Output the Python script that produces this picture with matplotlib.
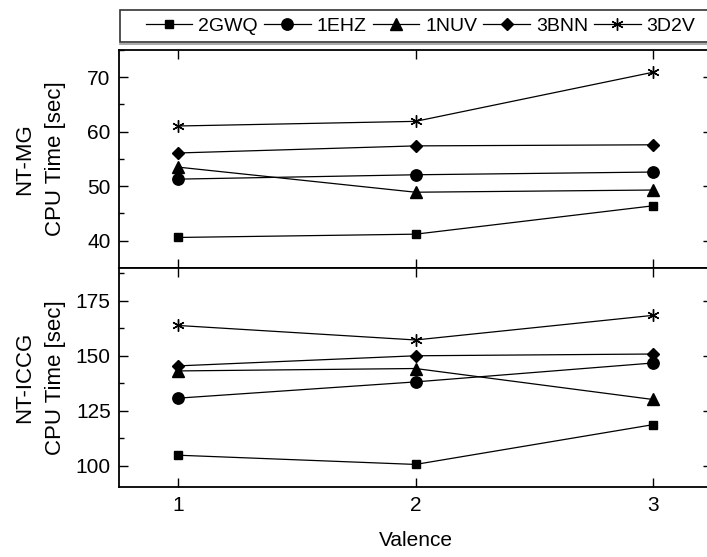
"""CPU time vs. valence for NT-MG and NT-ICCG solvers, five RNA structures."""

import matplotlib
matplotlib.use("Agg")
import matplotlib.pyplot as plt
from matplotlib.lines import Line2D
from matplotlib.patches import Rectangle
from matplotlib.ticker import MultipleLocator

plt.rcParams["font.family"] = ["Liberation Sans", "DejaVu Sans"]
plt.rcParams["font.size"] = 15

valence = [1, 2, 3]
structures = ["2GWQ", "1EHZ", "1NUV", "3BNN", "3D2V"]

mg_2gwq = [40.6, 41.2, 46.4]
mg_1ehz = [51.3, 52.1, 52.6]
mg_1nuv = [53.5, 48.9, 49.3]
mg_3bnn = [56.1, 57.4, 57.6]
mg_3d2v = [61.05, 61.9, 70.9]

iccg_2gwq = [104.7, 100.5, 118.6]
iccg_1ehz = [130.7, 138.1, 146.7]
iccg_1nuv = [143.1, 144.2, 130.1]
iccg_3bnn = [145.4, 150.0, 150.8]
iccg_3d2v = [163.8, 157.2, 168.4]

MARKERS = {
    "2GWQ": ("s", 6.3),
    "1EHZ": ("o", 8.2),
    "1NUV": ("^", 8.6),
    "3BNN": ("D", 6.1),
    "3D2V": ((6, 2, 0), 8.8),
}


def style_axis(ax, ylim, major, minor):
    ax.set_xlim(0.75, 3.25)
    ax.set_ylim(*ylim)
    ax.set_xticks(valence)
    ax.yaxis.set_major_locator(MultipleLocator(major))
    ax.yaxis.set_minor_locator(MultipleLocator(minor))
    ax.tick_params(which="both", direction="in", top=True, right=True, width=1.0)
    ax.tick_params(which="major", length=6.5, pad=6, labelsize=15)
    ax.tick_params(which="minor", length=3.6)
    ax.tick_params(axis="x", which="minor", bottom=False, top=False)
    for spine in ax.spines.values():
        spine.set_linewidth(1.3)


def draw_series(ax, series):
    for name, values in zip(structures, series):
        marker, size = MARKERS[name]
        ax.plot(valence, values, color="black", linewidth=0.9, marker=marker,
                markersize=size, markeredgewidth=1.0, markerfacecolor="black",
                markeredgecolor="black", label=name)


fig = plt.figure(figsize=(7.07, 5.57), dpi=100)
ax_mg = fig.add_axes([0.1683, 0.5189, 0.8388, 0.3914])
ax_iccg = fig.add_axes([0.1683, 0.1248, 0.8388, 0.3941])

draw_series(ax_mg, [mg_2gwq, mg_1ehz, mg_1nuv, mg_3bnn, mg_3d2v])
draw_series(ax_iccg, [iccg_2gwq, iccg_1ehz, iccg_1nuv, iccg_3bnn, iccg_3d2v])

style_axis(ax_mg, (35, 75), 10, 5)
style_axis(ax_iccg, (90, 190), 25, 12.5)
ax_mg.tick_params(axis="x", labelbottom=False)

ax_mg.set_ylabel("NT-MG\nCPU Time [sec]", va="center", linespacing=1.6, fontsize=16)
ax_iccg.set_ylabel("NT-ICCG\nCPU Time [sec]", va="center", linespacing=1.6, fontsize=16)
ax_mg.yaxis.set_label_coords(-0.133, 0.5)
ax_iccg.yaxis.set_label_coords(-0.133, 0.5)
ax_iccg.set_xlabel("Valence", labelpad=12, fontsize=15)

# legend strip across the top
frame = Rectangle((120 / 707, 1 - 42 / 557), 600 / 707, 32 / 557,
                  transform=fig.transFigure, facecolor="white",
                  edgecolor="#333333", linewidth=1.2, clip_on=False)
fig.patches.append(frame)
fig.add_artist(Line2D([120 / 707, 1.0], [1 - 43.5 / 557, 1 - 43.5 / 557],
                      transform=fig.transFigure, color="#999999", linewidth=1.2))

handles, labels = ax_mg.get_legend_handles_labels()
fig.legend(handles, labels, loc="center left", ncol=5, frameon=False,
           bbox_to_anchor=(0.195, 1 - 26 / 557), borderaxespad=0,
           handlelength=2.4, handletextpad=0.3, columnspacing=0.32,
           fontsize=14)

fig.savefig("out.png", dpi=100)
